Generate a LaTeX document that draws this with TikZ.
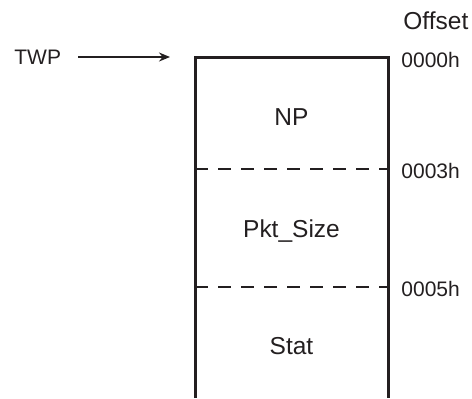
\documentclass[tikz,border=0pt]{standalone}
\usepackage{fontspec}
\setmainfont{Liberation Sans}
\usetikzlibrary{arrows.meta, positioning}
\definecolor{ink}{HTML}{231F20}
\tikzset{
  boxline/.style   = {ink, line width=1.5pt},
  sepline/.style   = {ink, line width=1.1pt, dash pattern=on 6.25pt off 5.25pt},
  ptr/.style       = {-{Stealth[length=5.5pt, width=4.5pt]}, ink, line width=0.9pt},
  field/.style     = {anchor=base, inner sep=0pt, text=ink, font=\fontsize{12.25}{14}\selectfont},
  offs/.style      = {anchor=west, inner sep=0pt, text=ink, font=\fontsize{10.5}{12}\selectfont},
}

\begin{document}
\begin{tikzpicture}[x=0.5pt,y=-0.5pt]
  \useasboundingbox (0,0) rectangle (472,398);
  % frame, open at the bottom
  \draw[boxline] (195,398) |- (388,57) -- (388,398);
  \draw[sepline] (195,169) -- (388,169);
  \draw[sepline] (195,287) -- (388,287);
  % fields
  \node[field] (np)   at (291.5,125) {NP};
  \node[field] (size) at (291.5,237) {Pkt\_Size};
  \node[field] (stat) at (291.5,354) {Stat};
  % offsets
  \node[offs, font=\fontsize{12.25}{14}\selectfont] (offset) at (403,21) {Offset};
  \node[offs] (o0) at (401,60)  {0000h};
  \node[offs] (o3) at (401,171) {0003h};
  \node[offs] (o5) at (401,289) {0005h};
  % pointer
  \node[offs, anchor=west] (twp) at (14,57) {TWP};
  \coordinate (twpTip) at (170,57);
  \draw[ptr] ([xshift=8.5pt]twp.east) -- (twpTip);
\end{tikzpicture}
\end{document}
